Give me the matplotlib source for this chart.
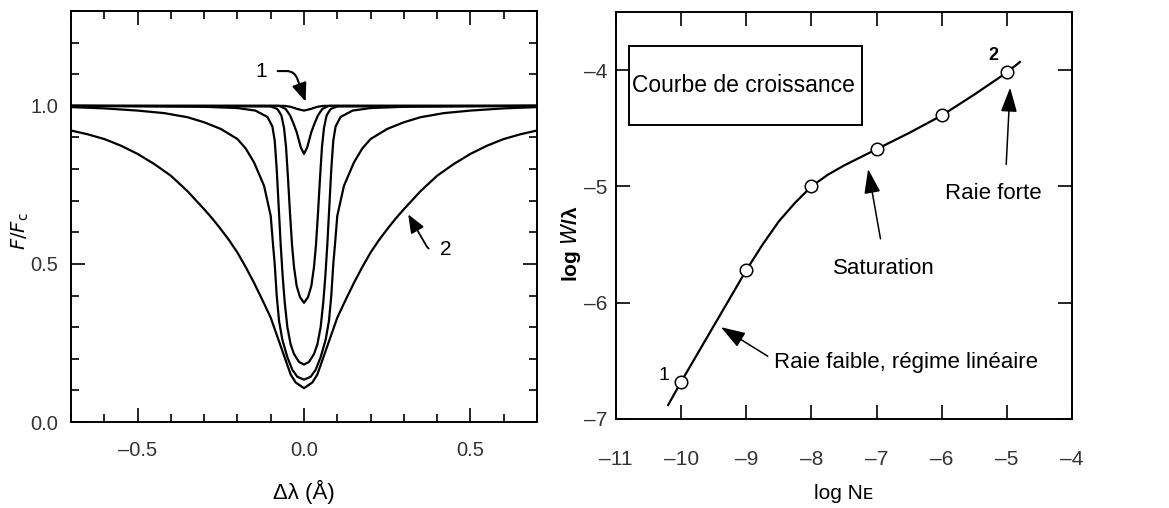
import matplotlib
matplotlib.use('Agg')
import matplotlib.pyplot as plt
from matplotlib.patches import Rectangle
from matplotlib.ticker import MultipleLocator, FuncFormatter
import numpy as np

# left panel: half profiles (|dlambda| in A, F/Fc), mirrored around 0
c1_dl = [0, 0.02, 0.04, 0.06, 0.7]
c1_f = [0.985, 0.99, 0.997, 1.0, 1.0]
c2_dl = [0, 0.01, 0.022, 0.032, 0.042, 0.055, 0.075, 0.7]
c2_f = [0.848, 0.87, 0.917, 0.945, 0.97, 0.99, 1.0, 1.0]
c3_dl = [0, 0.012, 0.022, 0.03, 0.036, 0.042, 0.048, 0.054, 0.06, 0.068, 0.08, 0.1, 0.7]
c3_f = [0.377, 0.395, 0.43, 0.49, 0.56, 0.66, 0.77, 0.87, 0.93, 0.97, 0.99, 0.998, 1.0]
c4_dl = [0, 0.015, 0.03, 0.04, 0.05, 0.058, 0.064, 0.07, 0.076, 0.082, 0.088, 0.095,
         0.11, 0.146, 0.2, 0.3, 0.7]
c4_f = [0.182, 0.19, 0.215, 0.245, 0.30, 0.38, 0.46, 0.56, 0.68, 0.80, 0.89, 0.935,
        0.965, 0.985, 0.993, 0.997, 1.0]
c5_dl = [0, 0.02, 0.035, 0.05, 0.065, 0.075, 0.082, 0.088, 0.093, 0.1, 0.12, 0.15,
         0.175, 0.2, 0.25, 0.3, 0.35, 0.42, 0.5, 0.6, 0.7]
c5_f = [0.134, 0.143, 0.165, 0.205, 0.26, 0.32, 0.40, 0.50, 0.56, 0.652, 0.747, 0.821,
        0.865, 0.895, 0.927, 0.948, 0.964, 0.977, 0.985, 0.992, 0.996]
c6_dl = [0, 0.025, 0.04, 0.055, 0.07, 0.085, 0.1, 0.12, 0.15, 0.175, 0.2, 0.225,
         0.25, 0.275, 0.3, 0.35, 0.4, 0.45, 0.5, 0.55, 0.6, 0.65, 0.7]
c6_f = [0.107, 0.125, 0.15, 0.195, 0.24, 0.285, 0.33, 0.375, 0.44, 0.49, 0.536, 0.575,
        0.61, 0.643, 0.673, 0.73, 0.779, 0.816, 0.848, 0.874, 0.895, 0.91, 0.922]
profiles = [(c1_dl, c1_f), (c2_dl, c2_f), (c3_dl, c3_f), (c4_dl, c4_f),
            (c5_dl, c5_f), (c6_dl, c6_f)]

# right panel: curve of growth
logN_pts = [-10, -9, -8, -7, -6, -5]
logW_pts = [-6.68, -5.72, -5.0, -4.68, -4.39, -4.02]
cog_x = [-10.2, -10.0, -9.5, -9.0, -8.75, -8.5, -8.25, -8.0, -7.75, -7.5, -7.0,
         -6.5, -6.0, -5.5, -5.0, -4.8]
cog_y = [-6.88, -6.68, -6.20, -5.72, -5.50, -5.30, -5.14, -5.00, -4.90, -4.82, -4.68,
         -4.54, -4.39, -4.21, -4.02, -3.93]

narrow = ['Liberation Sans Narrow', 'Liberation Sans', 'DejaVu Sans']
plt.rcParams['font.family'] = ['Liberation Sans', 'DejaVu Sans']

fig = plt.figure(figsize=(11.69, 5.08), dpi=100)
ax1 = fig.add_axes([71 / 1169, 1 - 422 / 508, 466 / 1169, 411 / 508])
ax2 = fig.add_axes([616 / 1169, 1 - 419 / 508, 456 / 1169, 407 / 508])

minus = FuncFormatter(lambda v, p: ('%.1f' % v).replace('-', '\u2013'))
minus0 = FuncFormatter(lambda v, p: ('%d' % round(v)).replace('-', '\u2013'))

# ---- left panel
for dl, f in profiles:
    dl = np.asarray(dl)
    f = np.asarray(f)
    x = np.concatenate([-dl[::-1], dl[1:]])
    y = np.concatenate([f[::-1], f[1:]])
    ax1.plot(x, y, color='black', lw=1.6, solid_joinstyle='round')

ax1.set_xlim(-0.7, 0.7)
ax1.set_ylim(0, 1.3)
ax1.xaxis.set_major_locator(MultipleLocator(0.5))
ax1.xaxis.set_minor_locator(MultipleLocator(0.1))
ax1.yaxis.set_major_locator(MultipleLocator(0.5))
ax1.yaxis.set_minor_locator(MultipleLocator(0.1))
ax1.xaxis.set_major_formatter(minus)
ax1.yaxis.set_major_formatter(minus)
ax1.tick_params(which='both', direction='in', top=True, right=True, width=1.2)
ax1.tick_params(which='major', length=10)
ax1.tick_params(which='minor', length=5.5)
ax1.tick_params(axis='x', pad=14)
ax1.tick_params(axis='y', pad=9)
for lab in ax1.get_xticklabels() + ax1.get_yticklabels():
    lab.set_family(narrow)
    lab.set_fontsize(14.5)
    lab.set_color('#333333')
for s in ax1.spines.values():
    s.set_linewidth(1.4)

ax1.set_xlabel('\u0394\u03bb (\u00c5)', fontsize=16)
ax1.xaxis.set_label_coords(0.5, -0.14)
ax1.set_ylabel(r'$\mathit{F/F}_{\mathrm{c}}$', fontsize=14)
ax1.yaxis.set_label_coords(-0.085, 0.465)

ax1.annotate('1', xy=(0.005, 1.013), xytext=(-0.13, 1.11), fontsize=15,
             family=narrow, ha='center', va='center',
             arrowprops=dict(arrowstyle='-|>,head_length=0.7,head_width=0.28',
                             connectionstyle='angle,angleA=0,angleB=110,rad=8',
                             color='black', lw=1.5, shrinkA=6, shrinkB=0,
                             mutation_scale=16))
ax1.annotate('2', xy=(0.313, 0.657), xytext=(0.425, 0.545), fontsize=15,
             family=narrow, ha='center', va='center',
             arrowprops=dict(arrowstyle='-|>,head_length=0.7,head_width=0.28',
                             connectionstyle='angle,angleA=0,angleB=-60,rad=4',
                             color='black', lw=1.3, shrinkA=6, shrinkB=0,
                             mutation_scale=16))

# ---- right panel
ax2.plot(cog_x, cog_y, color='black', lw=1.6, solid_joinstyle='round')
ax2.plot(logN_pts, logW_pts, 'o', ms=9, mfc='white', mec='black', mew=1.1)

ax2.set_xlim(-11, -4)
ax2.set_ylim(-7, -3.5)
ax2.xaxis.set_major_locator(MultipleLocator(1))
ax2.yaxis.set_major_locator(MultipleLocator(1))
ax2.xaxis.set_major_formatter(minus0)
ax2.yaxis.set_major_formatter(minus0)
ax2.tick_params(which='major', direction='in', top=True, right=True, length=10,
                width=1.2)
ax2.tick_params(axis='x', pad=22)
ax2.tick_params(axis='y', pad=6)
for lab in ax2.get_xticklabels() + ax2.get_yticklabels():
    lab.set_family(narrow)
    lab.set_fontsize(15)
    lab.set_color('#333333')
for s in ax2.spines.values():
    s.set_linewidth(1.4)

ax2.set_xlabel('log N\u1d07', fontsize=15, family=['Liberation Sans', 'DejaVu Sans'])
ax2.xaxis.set_label_coords(0.5, -0.16)
ax2.set_ylabel('log $\\mathit{W}$/\u03bb', fontsize=15, fontweight='bold', family=narrow)
ax2.yaxis.set_label_coords(-0.072, 0.43)

ax2.add_patch(Rectangle((-10.80, -4.47), 3.58, 0.68, fill=False, lw=1.4,
                        edgecolor='black'))
ax2.text(-10.75, -4.13, 'Courbe de croissance', fontsize=16.5, va='center', ha='left')

ax2.text(-5.95, -5.06, 'Raie forte', fontsize=16, va='center', ha='left')
ax2.text(-7.67, -5.71, 'Saturation', fontsize=16, va='center', ha='left')
ax2.text(-8.58, -6.51, 'Raie faible, r\u00e9gime lin\u00e9aire', fontsize=16,
         va='center', ha='left')

arrow_kw = dict(arrowstyle='-|>,head_length=0.75,head_width=0.25', color='black',
                lw=1.1, shrinkA=0, shrinkB=0, mutation_scale=20)
ax2.annotate('', xy=(-4.95, -4.15), xytext=(-5.01, -4.81), arrowprops=arrow_kw)
ax2.annotate('', xy=(-7.13, -4.85), xytext=(-6.94, -5.45), arrowprops=arrow_kw)
ax2.annotate('', xy=(-9.39, -6.21), xytext=(-8.67, -6.46), arrowprops=arrow_kw)

ax2.text(-10.26, -6.63, '1', fontsize=14, family=narrow, ha='center', va='center')
ax2.text(-5.21, -3.87, '2', fontsize=13, family=narrow, fontweight='bold',
         ha='center', va='center')

fig.savefig('out.png', dpi=100)
